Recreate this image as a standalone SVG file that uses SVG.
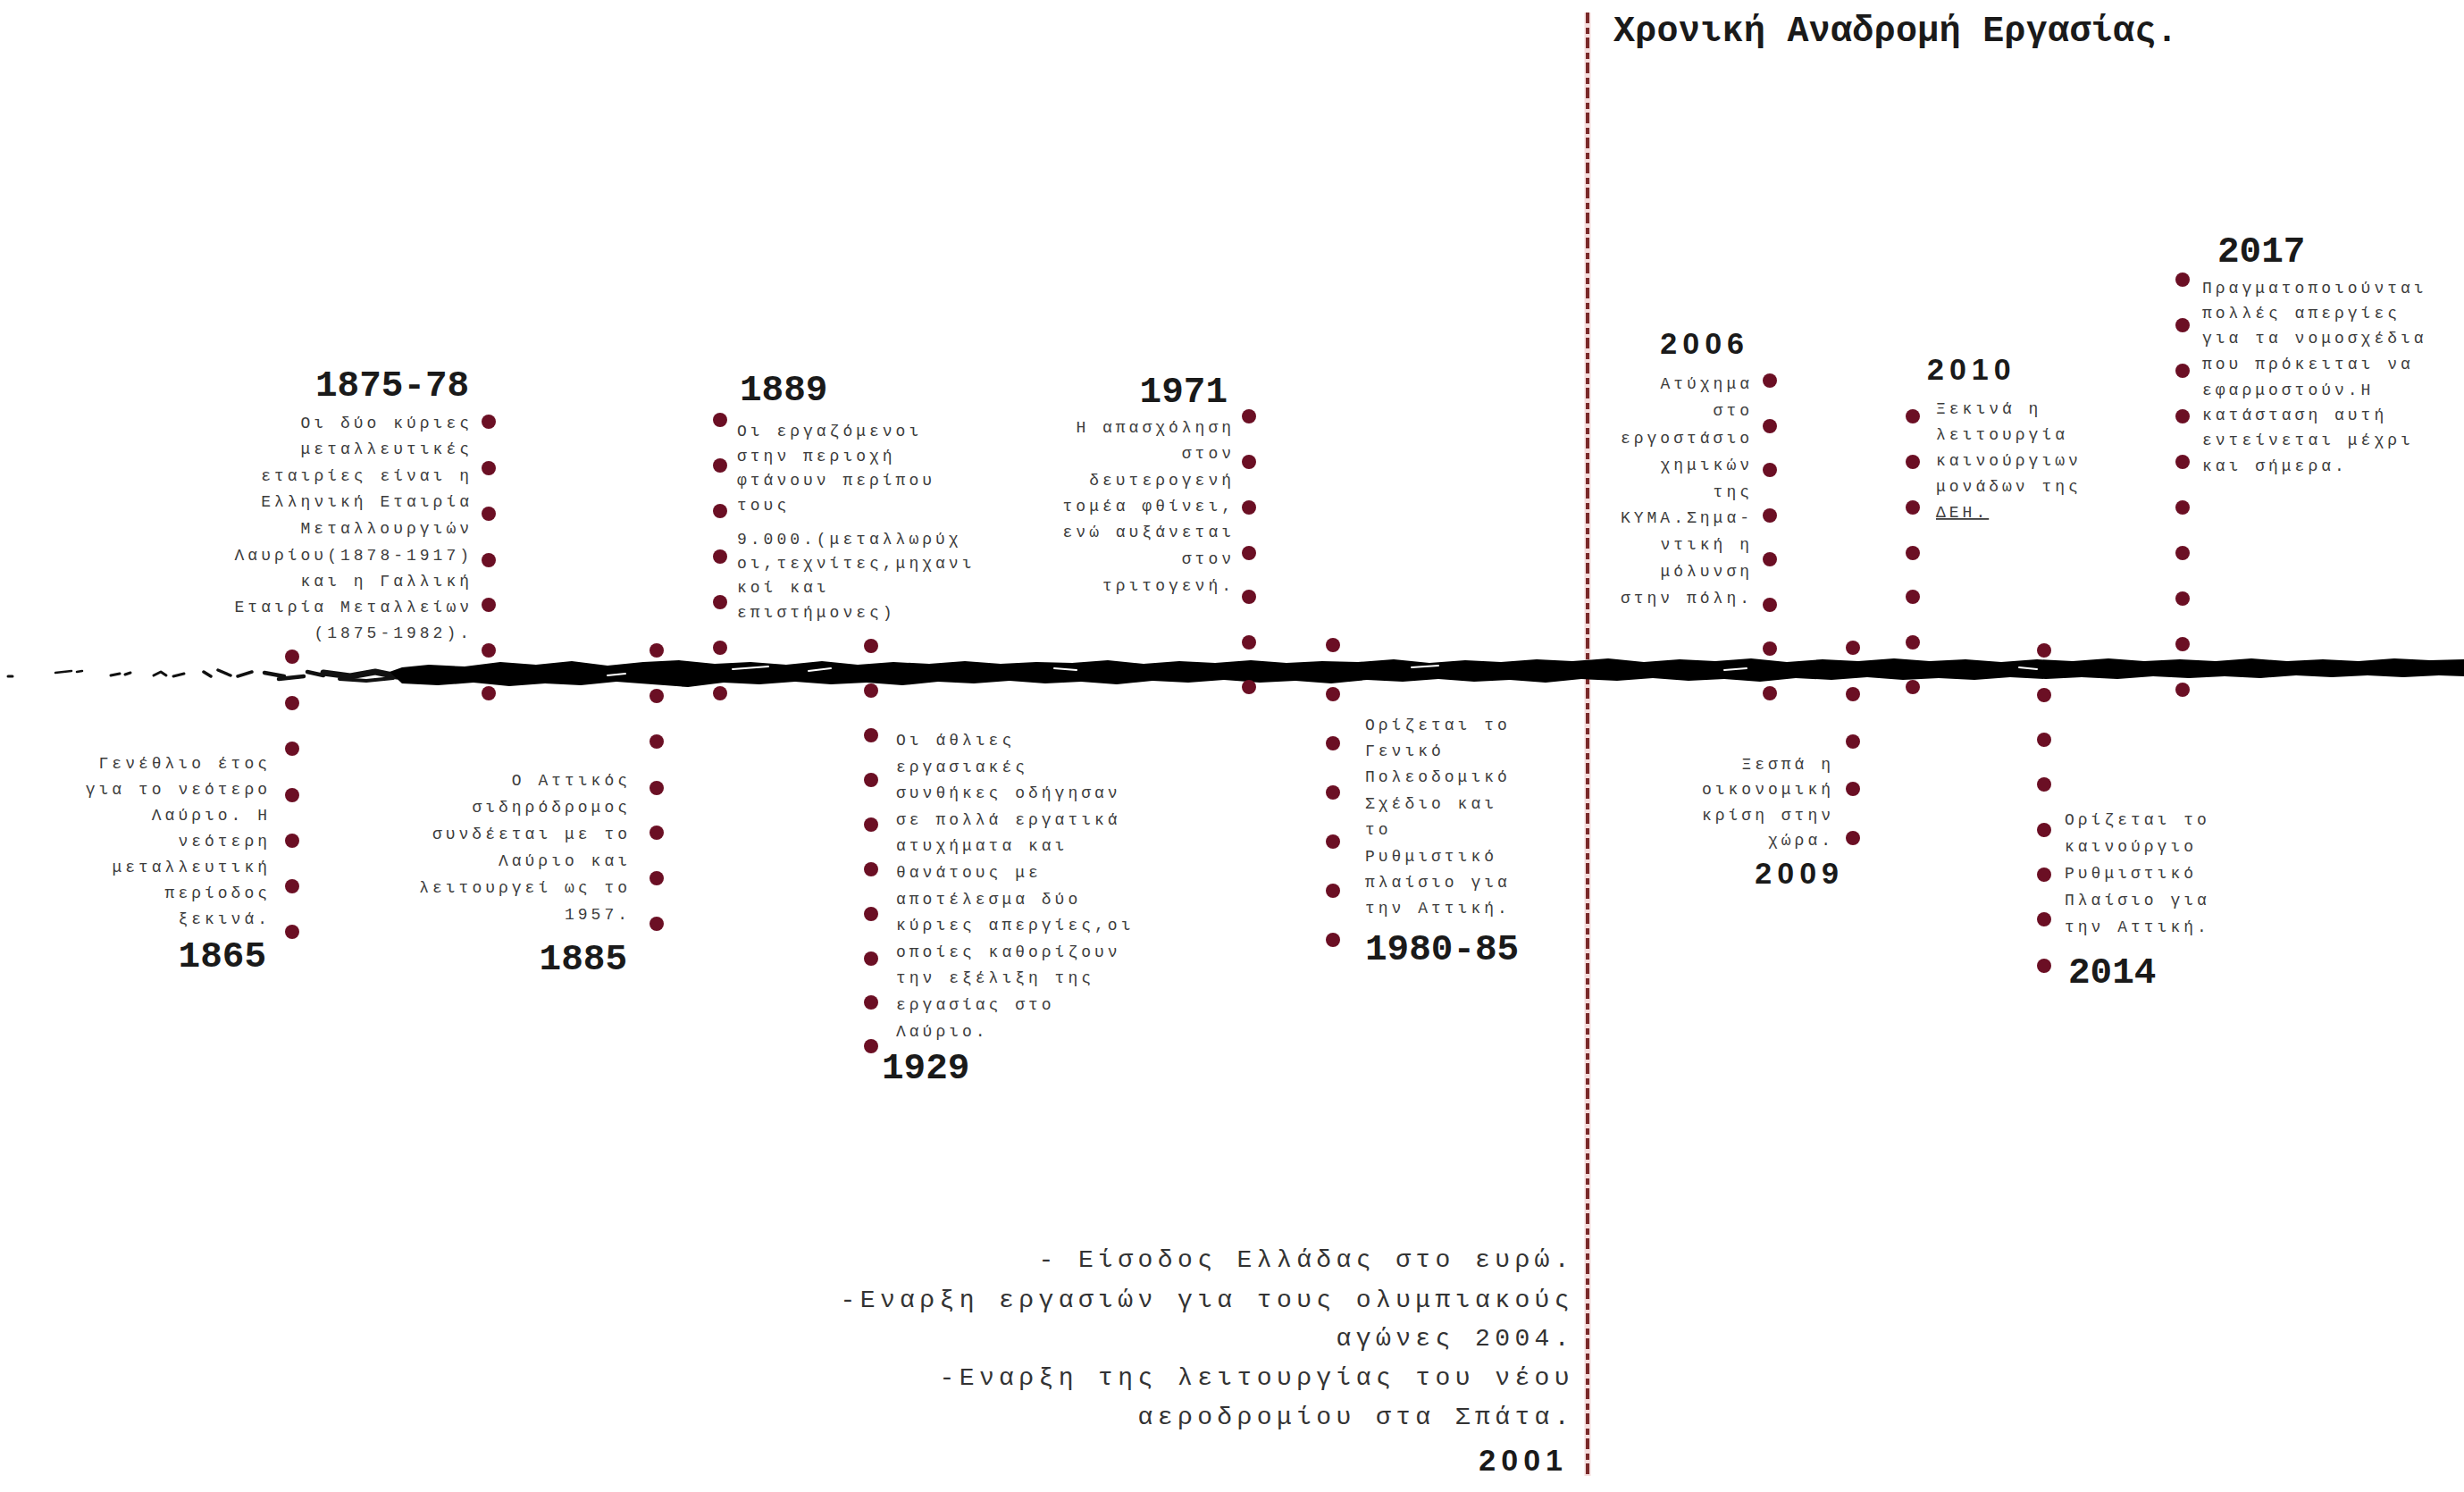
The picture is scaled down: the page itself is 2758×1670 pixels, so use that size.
<svg xmlns="http://www.w3.org/2000/svg" width="2758" height="1670" viewBox="0 0 2758 1670">
<style>
.t{font-family:"Liberation Mono","DejaVu Sans Mono",monospace;font-size:18px;letter-spacing:4px;fill:#3c3c3c}
.r{text-anchor:end}
.y{font-family:"Liberation Mono","DejaVu Sans Mono",monospace;font-weight:bold;font-size:41px;fill:#1a1a1a}
.ys{font-family:"Liberation Sans",Arial,sans-serif;font-weight:bold;font-size:34px;letter-spacing:6px;fill:#1a1a1a}
.big{font-family:"Liberation Mono","DejaVu Sans Mono",monospace;font-size:28px;letter-spacing:5.4px;fill:#333}
.title{font-family:"Liberation Mono","DejaVu Sans Mono",monospace;font-weight:bold;font-size:40px;letter-spacing:0.3px;fill:#1a1a1a}
.dot{fill:#6b0f24}
.ink{fill:none;stroke:#111;stroke-linecap:round;stroke-linejoin:round}
</style>
<rect width="2758" height="1670" fill="#ffffff"/>

<g id="connectors">
  <line x1="1777" y1="14" x2="1777" y2="1652" stroke="#f0c8c8" stroke-width="7" opacity="0.6"/>
  <line x1="1777" y1="14" x2="1777" y2="1652" stroke="#7a2a2a" stroke-width="4" stroke-dasharray="12 5 7 4"/>
  <!-- left broken fragments of the timeline -->
  <g class="ink">
    <path d="M9,757 L14,757" stroke-width="3"/>
    <path d="M62,753 L80,751 M86,752 L92,751" stroke-width="2.5"/>
    <path d="M124,756 L134,754 M140,755 L146,753" stroke-width="3"/>
    <path d="M172,756 L180,752 L186,756 M194,757 L206,754" stroke-width="3"/>
    <path d="M228,752 L236,757 M244,750 L258,756 M266,757 L282,752" stroke-width="3.5"/>
    <path d="M296,753 L318,757 M312,760 L340,757 M344,752 L362,756" stroke-width="4.5"/>
    <path d="M362,753 L392,757 L420,752 L444,757" stroke-width="7"/>
    <path d="M380,760 L410,762 L440,759" stroke-width="4"/>
  </g>
  <!-- main rough timeline band -->
  <path id="band" fill="#000" d="M436,752 L450,747 480,744 520,746 560,741 600,744 640,740 680,745 720,741 760,739 800,743 840,741 880,744 920,740 960,744 1000,741 1040,743 1080,740 1120,743 1160,741 1200,742 1240,739 1280,743 1320,740 1360,742 1400,739 1440,742 1480,740 1520,741 1560,738 1600,742 1640,739 1680,741 1720,738 1760,740 1800,737 1840,741 1880,738 1920,740 1960,737 2000,741 2040,738 2080,740 2120,737 2160,740 2200,738 2240,741 2280,738 2320,740 2360,737 2400,740 2440,738 2480,740 2520,737 2560,740 2600,738 2640,740 2680,737 2720,739 2758,738 L2758,757 2730,756 2690,758 2650,756 2610,758 2570,756 2530,759 2490,757 2450,759 2410,757 2370,760 2330,758 2290,760 2250,758 2210,761 2170,759 2130,761 2090,758 2050,761 2010,759 1970,763 1930,760 1890,762 1850,759 1810,762 1770,760 1730,764 1690,761 1650,763 1610,760 1570,763 1530,761 1490,765 1450,762 1410,764 1370,761 1330,764 1290,762 1250,766 1210,763 1170,765 1130,762 1090,765 1050,763 1010,767 970,764 930,766 890,763 850,766 810,764 770,769 730,766 690,763 650,767 610,765 570,768 530,764 490,767 450,765 Z"/>
  <g stroke="#fff" stroke-width="2" fill="none" stroke-linecap="round">
    <path d="M820,749 L860,746 M905,751 L930,748 M1180,748 L1205,750 M1580,747 L1610,745 M1930,750 L1955,748 M2260,747 L2280,749 M680,756 L700,754"/>
  </g>
</g>

<g id="title">
  <text class="title" x="1806" y="46">Χρονική Αναδρομή Εργασίας.</text>
</g>

<g id="n1865">
  <circle class="dot" cx="327" cy="735" r="8"/><circle class="dot" cx="327" cy="787" r="8"/><circle class="dot" cx="327" cy="838" r="8"/><circle class="dot" cx="327" cy="890" r="8"/><circle class="dot" cx="327" cy="941" r="8"/><circle class="dot" cx="327" cy="992" r="8"/><circle class="dot" cx="327" cy="1043" r="8"/>
  <text class="t r" x="303" y="860">Γενέθλιο έτος</text>
  <text class="t r" x="303" y="889">για το νεότερο</text>
  <text class="t r" x="303" y="918">Λαύριο. Η</text>
  <text class="t r" x="303" y="947">νεότερη</text>
  <text class="t r" x="303" y="976">μεταλλευτική</text>
  <text class="t r" x="303" y="1005">περίοδος</text>
  <text class="t r" x="303" y="1034">ξεκινά.</text>
  <text class="y r" x="298" y="1082">1865</text>
</g>

<g id="n1875">
  <text class="y" x="353" y="443">1875-78</text>
  <circle class="dot" cx="547" cy="472" r="8"/><circle class="dot" cx="547" cy="524" r="8"/><circle class="dot" cx="547" cy="575" r="8"/><circle class="dot" cx="547" cy="627" r="8"/><circle class="dot" cx="547" cy="677" r="8"/><circle class="dot" cx="547" cy="728" r="8"/><circle class="dot" cx="547" cy="776" r="8"/>
  <text class="t r" x="529" y="479">Οι δύο κύριες</text>
  <text class="t r" x="529" y="508">μεταλλευτικές</text>
  <text class="t r" x="529" y="538">εταιρίες είναι η</text>
  <text class="t r" x="529" y="567">Ελληνική Εταιρία</text>
  <text class="t r" x="529" y="597">Μεταλλουργιών</text>
  <text class="t r" x="529" y="627">Λαυρίου(1878-1917)</text>
  <text class="t r" x="529" y="656">και η Γαλλική</text>
  <text class="t r" x="529" y="685">Εταιρία Μεταλλείων</text>
  <text class="t r" x="529" y="714">(1875-1982).</text>
</g>

<g id="n1885">
  <circle class="dot" cx="735" cy="728" r="8"/><circle class="dot" cx="735" cy="779" r="8"/><circle class="dot" cx="735" cy="830" r="8"/><circle class="dot" cx="735" cy="882" r="8"/><circle class="dot" cx="735" cy="932" r="8"/><circle class="dot" cx="735" cy="983" r="8"/><circle class="dot" cx="735" cy="1034" r="8"/>
  <text class="t r" x="706" y="879">Ο Αττικός</text>
  <text class="t r" x="706" y="909">σιδηρόδρομος</text>
  <text class="t r" x="706" y="939">συνδέεται με το</text>
  <text class="t r" x="706" y="969">Λαύριο και</text>
  <text class="t r" x="706" y="999">λειτουργεί ως το</text>
  <text class="t r" x="706" y="1029">1957.</text>
  <text class="y r" x="702" y="1085">1885</text>
</g>

<g id="n1889">
  <text class="y" x="828" y="448">1889</text>
  <circle class="dot" cx="806" cy="470" r="8"/><circle class="dot" cx="806" cy="521" r="8"/><circle class="dot" cx="806" cy="572" r="8"/><circle class="dot" cx="806" cy="623" r="8"/><circle class="dot" cx="806" cy="674" r="8"/><circle class="dot" cx="806" cy="725" r="8"/><circle class="dot" cx="806" cy="776" r="8"/>
  <text class="t" x="825" y="488">Οι εργαζόμενοι</text>
  <text class="t" x="825" y="516">στην περιοχή</text>
  <text class="t" x="825" y="543">φτάνουν περίπου</text>
  <text class="t" x="825" y="571">τους</text>
  <text class="t" x="825" y="609">9.000.(μεταλλωρύχ</text>
  <text class="t" x="825" y="636">οι,τεχνίτες,μηχανι</text>
  <text class="t" x="825" y="663">κοί και</text>
  <text class="t" x="825" y="691">επιστήμονες)</text>
</g>

<g id="n1929">
  <circle class="dot" cx="975" cy="723" r="8"/><circle class="dot" cx="975" cy="773" r="8"/><circle class="dot" cx="975" cy="823" r="8"/><circle class="dot" cx="975" cy="873" r="8"/><circle class="dot" cx="975" cy="923" r="8"/><circle class="dot" cx="975" cy="973" r="8"/><circle class="dot" cx="975" cy="1023" r="8"/><circle class="dot" cx="975" cy="1073" r="8"/><circle class="dot" cx="975" cy="1122" r="8"/><circle class="dot" cx="975" cy="1171" r="8"/>
  <text class="t" x="1003" y="834">Οι άθλιες</text>
  <text class="t" x="1003" y="864">εργασιακές</text>
  <text class="t" x="1003" y="893">συνθήκες οδήγησαν</text>
  <text class="t" x="1003" y="923">σε πολλά εργατικά</text>
  <text class="t" x="1003" y="952">ατυχήματα και</text>
  <text class="t" x="1003" y="982">θανάτους με</text>
  <text class="t" x="1003" y="1012">αποτέλεσμα δύο</text>
  <text class="t" x="1003" y="1041">κύριες απεργίες,οι</text>
  <text class="t" x="1003" y="1071">οποίες καθορίζουν</text>
  <text class="t" x="1003" y="1100">την εξέλιξη της</text>
  <text class="t" x="1003" y="1130">εργασίας στο</text>
  <text class="t" x="1003" y="1160">Λαύριο.</text>
  <text class="y" x="987" y="1207">1929</text>
</g>

<g id="n1971">
  <text class="y r" x="1374" y="450">1971</text>
  <circle class="dot" cx="1398" cy="466" r="8"/><circle class="dot" cx="1398" cy="517" r="8"/><circle class="dot" cx="1398" cy="568" r="8"/><circle class="dot" cx="1398" cy="619" r="8"/><circle class="dot" cx="1398" cy="668" r="8"/><circle class="dot" cx="1398" cy="719" r="8"/><circle class="dot" cx="1398" cy="769" r="8"/>
  <text class="t r" x="1382" y="484">Η απασχόληση</text>
  <text class="t r" x="1382" y="513">στον</text>
  <text class="t r" x="1382" y="543">δευτερογενή</text>
  <text class="t r" x="1382" y="572">τομέα φθίνει,</text>
  <text class="t r" x="1382" y="601">ενώ αυξάνεται</text>
  <text class="t r" x="1382" y="631">στον</text>
  <text class="t r" x="1382" y="661">τριτογενή.</text>
</g>

<g id="n1980">
  <circle class="dot" cx="1492" cy="722" r="8"/><circle class="dot" cx="1492" cy="777" r="8"/><circle class="dot" cx="1492" cy="832" r="8"/><circle class="dot" cx="1492" cy="887" r="8"/><circle class="dot" cx="1492" cy="942" r="8"/><circle class="dot" cx="1492" cy="997" r="8"/><circle class="dot" cx="1492" cy="1052" r="8"/>
  <text class="t" x="1528" y="817">Ορίζεται το</text>
  <text class="t" x="1528" y="846">Γενικό</text>
  <text class="t" x="1528" y="875">Πολεοδομικό</text>
  <text class="t" x="1528" y="905">Σχέδιο και</text>
  <text class="t" x="1528" y="934">το</text>
  <text class="t" x="1528" y="964">Ρυθμιστικό</text>
  <text class="t" x="1528" y="993">πλαίσιο για</text>
  <text class="t" x="1528" y="1022">την Αττική.</text>
  <text class="y" x="1528" y="1074">1980-85</text>
</g>

<g id="n2001">
  <text class="big r" x="1762" y="1418">- Είσοδος Ελλάδας στο ευρώ.</text>
  <text class="big r" x="1762" y="1463">-Εναρξη εργασιών για τους ολυμπιακούς</text>
  <text class="big r" x="1762" y="1506">αγώνες 2004.</text>
  <text class="big r" x="1762" y="1550">-Εναρξη της λειτουργίας του νέου</text>
  <text class="big r" x="1762" y="1594">αεροδρομίου στα Σπάτα.</text>
  <text class="ys r" x="1755" y="1646">2001</text>
</g>

<g id="n2006">
  <text class="ys r" x="1958" y="396">2006</text>
  <circle class="dot" cx="1981" cy="426" r="8"/><circle class="dot" cx="1981" cy="477" r="8"/><circle class="dot" cx="1981" cy="526" r="8"/><circle class="dot" cx="1981" cy="577" r="8"/><circle class="dot" cx="1981" cy="626" r="8"/><circle class="dot" cx="1981" cy="677" r="8"/><circle class="dot" cx="1981" cy="726" r="8"/><circle class="dot" cx="1981" cy="776" r="8"/>
  <text class="t r" x="1962" y="435">Ατύχημα</text>
  <text class="t r" x="1962" y="465">στο</text>
  <text class="t r" x="1962" y="496">εργοστάσιο</text>
  <text class="t r" x="1962" y="526">χημικών</text>
  <text class="t r" x="1962" y="556">της</text>
  <text class="t r" x="1962" y="585">ΚΥΜΑ.Σημα-</text>
  <text class="t r" x="1962" y="615">ντική η</text>
  <text class="t r" x="1962" y="645">μόλυνση</text>
  <text class="t r" x="1962" y="675">στην πόλη.</text>
</g>

<g id="n2009">
  <circle class="dot" cx="2074" cy="725" r="8"/><circle class="dot" cx="2074" cy="777" r="8"/><circle class="dot" cx="2074" cy="830" r="8"/><circle class="dot" cx="2074" cy="883" r="8"/><circle class="dot" cx="2074" cy="938" r="8"/>
  <text class="t r" x="2053" y="861">Ξεσπά η</text>
  <text class="t r" x="2053" y="889">οικονομική</text>
  <text class="t r" x="2053" y="918">κρίση στην</text>
  <text class="t r" x="2053" y="946">χώρα.</text>
  <text class="ys r" x="2064" y="989">2009</text>
</g>

<g id="n2010">
  <text class="ys" x="2157" y="425">2010</text>
  <circle class="dot" cx="2141" cy="466" r="8"/><circle class="dot" cx="2141" cy="517" r="8"/><circle class="dot" cx="2141" cy="568" r="8"/><circle class="dot" cx="2141" cy="619" r="8"/><circle class="dot" cx="2141" cy="668" r="8"/><circle class="dot" cx="2141" cy="719" r="8"/><circle class="dot" cx="2141" cy="769" r="8"/>
  <text class="t" x="2167" y="463">Ξεκινά η</text>
  <text class="t" x="2167" y="492">λειτουργία</text>
  <text class="t" x="2167" y="521">καινούργιων</text>
  <text class="t" x="2167" y="550">μονάδων της</text>
  <text class="t" x="2167" y="579" text-decoration="underline">ΔΕΗ.</text>
</g>

<g id="n2014">
  <circle class="dot" cx="2288" cy="728" r="8"/><circle class="dot" cx="2288" cy="778" r="8"/><circle class="dot" cx="2288" cy="828" r="8"/><circle class="dot" cx="2288" cy="878" r="8"/><circle class="dot" cx="2288" cy="929" r="8"/><circle class="dot" cx="2288" cy="979" r="8"/><circle class="dot" cx="2288" cy="1029" r="8"/><circle class="dot" cx="2288" cy="1081" r="8"/>
  <text class="t" x="2311" y="923">Ορίζεται το</text>
  <text class="t" x="2311" y="953">καινούργιο</text>
  <text class="t" x="2311" y="983">Ρυθμιστικό</text>
  <text class="t" x="2311" y="1013">Πλαίσιο για</text>
  <text class="t" x="2311" y="1043">την Αττική.</text>
  <text class="y" x="2315" y="1100">2014</text>
</g>

<g id="n2017">
  <text class="y" x="2482" y="293">2017</text>
  <circle class="dot" cx="2443" cy="313" r="8"/><circle class="dot" cx="2443" cy="364" r="8"/><circle class="dot" cx="2443" cy="415" r="8"/><circle class="dot" cx="2443" cy="466" r="8"/><circle class="dot" cx="2443" cy="517" r="8"/><circle class="dot" cx="2443" cy="568" r="8"/><circle class="dot" cx="2443" cy="619" r="8"/><circle class="dot" cx="2443" cy="670" r="8"/><circle class="dot" cx="2443" cy="721" r="8"/><circle class="dot" cx="2443" cy="772" r="8"/>
  <text class="t" x="2465" y="328">Πραγματοποιούνται</text>
  <text class="t" x="2465" y="356">πολλές απεργίες</text>
  <text class="t" x="2465" y="384">για τα νομοσχέδια</text>
  <text class="t" x="2465" y="413">που πρόκειται να</text>
  <text class="t" x="2465" y="442">εφαρμοστούν.Η</text>
  <text class="t" x="2465" y="470">κατάσταση αυτή</text>
  <text class="t" x="2465" y="498">εντείνεται μέχρι</text>
  <text class="t" x="2465" y="527">και σήμερα.</text>
</g>
</svg>
